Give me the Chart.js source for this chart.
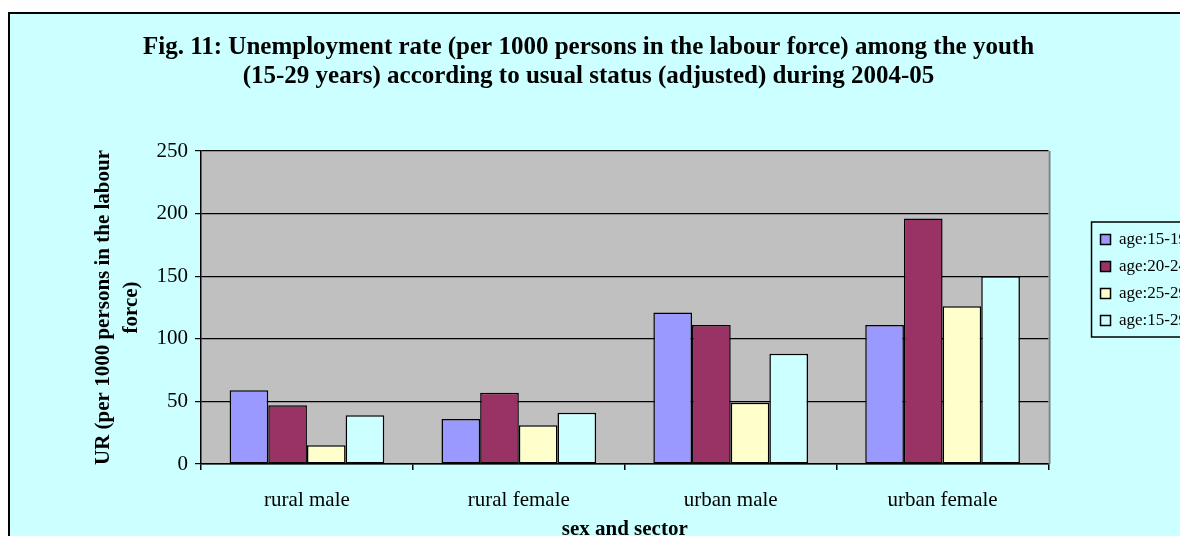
<!DOCTYPE html>
<html>
<head>
<meta charset="utf-8">
<script src="https://cdn.jsdelivr.net/npm/chart.js@4.4.1/dist/chart.umd.min.js"></script>
<style>
html, body { margin:0; padding:0; background:#ffffff; overflow:hidden; width:1180px; height:536px; position:relative; }
#frame { position:absolute; left:8px; top:12px; width:1300px; height:700px; border:2px solid #000; background:#CCFFFF; }
#wrap { position:absolute; left:-20px; top:0; width:1217px; height:560px; }
</style>
</head>
<body>
<div id="frame"></div>
<div id="wrap"><canvas id="c" width="1217" height="560"></canvas></div>
<script>
// ---- data ----
const categories = ['rural male', 'rural female', 'urban male', 'urban female'];
const seriesNames = ['age:15-19', 'age:20-24', 'age:25-29', 'age:15-29'];
const age15to19 = [59, 36, 121, 111];
const age20to24 = [47, 57, 111, 196];
const age25to29 = [15, 31, 49, 126];
const age15to29 = [39, 41, 88, 150];
const yTicks = [0, 50, 100, 150, 200, 250];
const chartTitle = ['Fig. 11: Unemployment rate (per 1000 persons in the labour force) among the youth',
                    '(15-29 years) according to usual status (adjusted) during 2004-05'];
const xTitle = 'sex and sector';
const yTitle = ['UR (per 1000 persons in the labour', 'force)'];

const seriesValues = [age15to19, age20to24, age25to29, age15to29];
const seriesColors = ['#9999FF', '#993366', '#FFFFCC', '#CCFFFF'];
const FONT = '"Liberation Serif", "Times New Roman", Times, serif';

const plotDecor = {
  id: 'plotDecor',
  beforeDraw(chart) {
    const { ctx, chartArea: { left, top, right, bottom } } = chart;
    ctx.save();
    ctx.fillStyle = '#C0C0C0';
    ctx.fillRect(left, top, right - left, bottom - top);
    ctx.restore();
  },
  afterDraw(chart) {
    const { ctx, chartArea: { top, right, bottom } } = chart;
    ctx.save();
    ctx.strokeStyle = '#808080';
    ctx.lineWidth = 2;
    ctx.beginPath();
    ctx.moveTo(right + 1, top);
    ctx.lineTo(right + 1, bottom);
    ctx.stroke();
    const hb = chart.legend && chart.legend.legendHitBoxes;
    if (hb && hb.length) {
      const first = hb[0], last = hb[hb.length - 1];
      const l = first.left - 9, t = first.top - 9;
      const b = last.top + last.height + 8;
      const r = chart.width + 10;
      ctx.strokeStyle = '#000';
      ctx.lineWidth = 1.5;
      ctx.strokeRect(l, t, r - l, b - t);
    }
    ctx.restore();
  }
};

new Chart(document.getElementById('c'), {
  type: 'bar',
  data: {
    labels: categories,
    datasets: seriesNames.map((name, i) => ({
      label: name,
      data: seriesValues[i],
      backgroundColor: seriesColors[i],
      borderColor: '#000',
      borderWidth: 1.5,
      borderSkipped: false,
      categoryPercentage: 0.73,
      barPercentage: 1.0
    }))
  },
  options: {
    responsive: false,
    maintainAspectRatio: false,
    animation: false,
    devicePixelRatio: 1,
    layout: { padding: { top: 19.5, bottom: 19.5, left: 0, right: 0 } },
    plugins: {
      title: {
        display: true,
        text: chartTitle,
        color: '#000',
        font: { family: FONT, size: 25, weight: 'bold', lineHeight: 1.16 },
        padding: { top: 14, bottom: 59.5 }
      },
      legend: {
        position: 'right',
        align: 'center',
        labels: {
          color: '#000',
          font: { family: FONT, size: 17 },
          boxWidth: 10,
          boxHeight: 10,
          padding: 10
        }
      },
      tooltip: { enabled: false }
    },
    scales: {
      x: {
        grid: { display: true, drawOnChartArea: false, drawTicks: true, tickLength: 6, color: '#000', lineWidth: 1.5 },
        border: { display: true, color: '#000', width: 1.5 },
        ticks: { color: '#000', font: { family: FONT, size: 21, lineHeight: 1 }, padding: 20 },
        title: { display: true, text: xTitle, color: '#000', font: { family: FONT, size: 21, weight: 'bold', lineHeight: 1 }, padding: { top: -11.5, bottom: 0 } }
      },
      y: {
        position: 'left',
        min: 0,
        max: 250,
        afterBuildTicks(scale) { scale.ticks = yTicks.map(v => ({ value: v })); },
        afterFit(scale) { scale.width = 221; },
        grid: { color: '#000', lineWidth: 1.2, drawTicks: true, tickLength: 6 },
        border: { display: true, color: '#000', width: 1.5 },
        ticks: { color: '#000', font: { family: FONT, size: 21 }, padding: 7 },
        title: { display: true, text: yTitle, color: '#000', font: { family: FONT, size: 21, weight: 'bold', lineHeight: 1.333 }, padding: { top: 109.5, bottom: 0 } }
      },
      gap: {
        position: 'right',
        display: true,
        grid: { display: false },
        ticks: { display: false },
        border: { display: false },
        afterFit(scale) { scale.width = 42; }
      }
    }
  },
  plugins: [plotDecor]
});
</script>
</body>
</html>
